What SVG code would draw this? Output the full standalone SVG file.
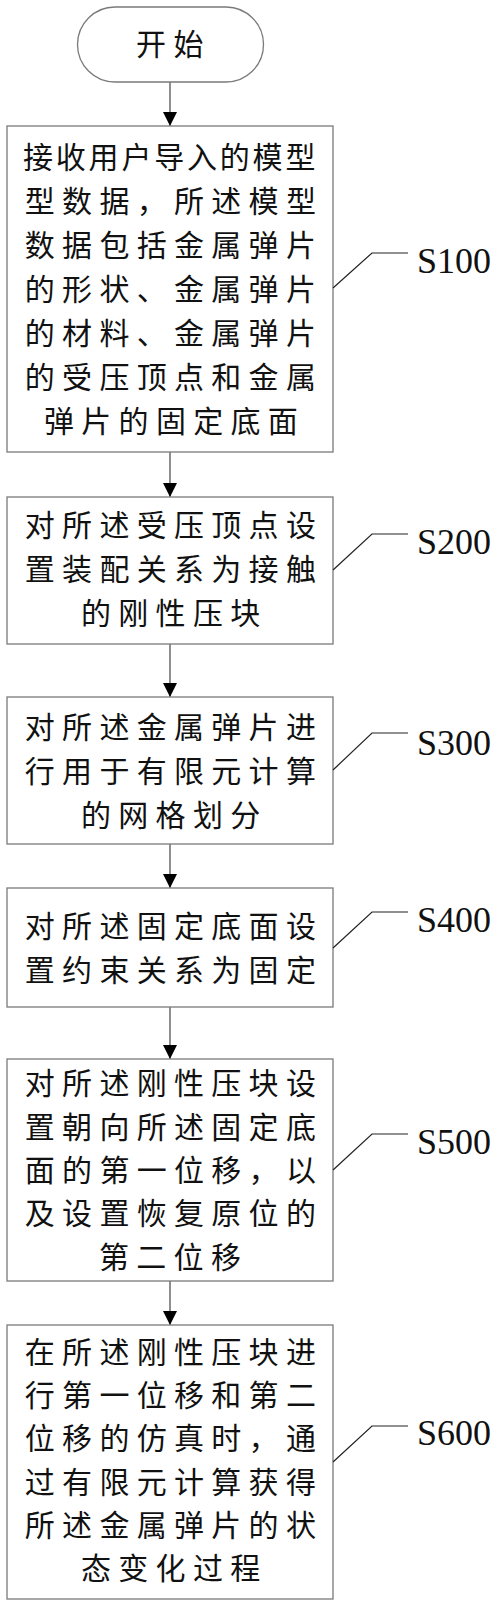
<svg xmlns="http://www.w3.org/2000/svg" width="500" height="1608" viewBox="0 0 500 1608">
<style>
.bg{fill:#fff}
.box{fill:#fff;stroke:#7a7a7a;stroke-width:1.3}
.t{font-family:"Noto Sans CJK SC","Noto Sans CJK JP",sans-serif;font-size:30px;fill:#111;letter-spacing:7.3px}
.t9{letter-spacing:2.8px}
.lbl{font-family:"Liberation Serif","Times New Roman",serif;font-size:36px;fill:#111}
.conn{stroke:#444;stroke-width:1.2;fill:none}
.lead{stroke:#222;stroke-width:1.2;fill:none}
</style>
<defs>
<marker id="ah" markerUnits="userSpaceOnUse" markerWidth="14" markerHeight="14" refX="14" refY="7" orient="auto">
<path d="M0,0 L14,7 L0,14 Z" fill="#000"/>
</marker>
</defs>
<rect class="bg" x="0" y="0" width="500" height="1608"/>

<g id="connectors">
<line class="conn" x1="170" y1="82" x2="170" y2="126" marker-end="url(#ah)"/>
<line class="conn" x1="170" y1="452" x2="170" y2="497" marker-end="url(#ah)"/>
<line class="conn" x1="170" y1="644" x2="170" y2="697" marker-end="url(#ah)"/>
<line class="conn" x1="170" y1="844" x2="170" y2="888" marker-end="url(#ah)"/>
<line class="conn" x1="170" y1="1007" x2="170" y2="1059" marker-end="url(#ah)"/>
<line class="conn" x1="170" y1="1281" x2="170" y2="1325" marker-end="url(#ah)"/>
</g>

<g id="start">
<rect class="box" x="77.5" y="7" width="186" height="75" rx="37.5" ry="37.5"/>
<text class="t" x="136" y="55" style="letter-spacing:7.4px">开始</text>
</g>

<g id="S100">
<rect class="box" x="7" y="126" width="326" height="326"/>
<text class="t t9" x="23" y="168">接收用户导入的模型</text>
<text class="t" x="24.8" y="212">型数据，所述模型</text>
<text class="t" x="24.8" y="256">数据包括金属弹片</text>
<text class="t" x="24.8" y="300">的形状、金属弹片</text>
<text class="t" x="24.8" y="344">的材料、金属弹片</text>
<text class="t" x="24.8" y="388">的受压顶点和金属</text>
<text class="t" x="44" y="432">弹片的固定底面</text>
<path class="lead" d="M333,288 L372,253 L408,253"/>
<text class="lbl" x="417" y="273">S100</text>
</g>

<g id="S200">
<rect class="box" x="7" y="497" width="326" height="147"/>
<text class="t" x="24.8" y="536">对所述受压顶点设</text>
<text class="t" x="24.8" y="580">置装配关系为接触</text>
<text class="t" x="81" y="624">的刚性压块</text>
<path class="lead" d="M333,570 L372,534 L408,534"/>
<text class="lbl" x="417" y="554">S200</text>
</g>

<g id="S300">
<rect class="box" x="7" y="697" width="326" height="147"/>
<text class="t" x="24.8" y="738">对所述金属弹片进</text>
<text class="t" x="24.8" y="782">行用于有限元计算</text>
<text class="t" x="81" y="826">的网格划分</text>
<path class="lead" d="M333,770 L372,733 L408,733"/>
<text class="lbl" x="417" y="755">S300</text>
</g>

<g id="S400">
<rect class="box" x="7" y="888" width="326" height="119"/>
<text class="t" x="24.8" y="937">对所述固定底面设</text>
<text class="t" x="24.8" y="981">置约束关系为固定</text>
<path class="lead" d="M333,948 L372,912 L408,912"/>
<text class="lbl" x="417" y="932">S400</text>
</g>

<g id="S500">
<rect class="box" x="7" y="1059" width="326" height="222"/>
<text class="t" x="24.8" y="1094">对所述刚性压块设</text>
<text class="t" x="24.8" y="1138">置朝向所述固定底</text>
<text class="t" x="24.8" y="1181">面的第一位移，以</text>
<text class="t" x="24.8" y="1224">及设置恢复原位的</text>
<text class="t" x="99" y="1268">第二位移</text>
<path class="lead" d="M333,1170 L372,1134 L408,1134"/>
<text class="lbl" x="417" y="1154">S500</text>
</g>

<g id="S600">
<rect class="box" x="7" y="1325" width="326" height="274"/>
<text class="t" x="24.8" y="1363">在所述刚性压块进</text>
<text class="t" x="24.8" y="1406">行第一位移和第二</text>
<text class="t" x="24.8" y="1449">位移的仿真时，通</text>
<text class="t" x="24.8" y="1493">过有限元计算获得</text>
<text class="t" x="24.8" y="1536">所述金属弹片的状</text>
<text class="t" x="81" y="1579">态变化过程</text>
<path class="lead" d="M333,1462 L372,1426 L408,1426"/>
<text class="lbl" x="417" y="1445">S600</text>
</g>
</svg>
